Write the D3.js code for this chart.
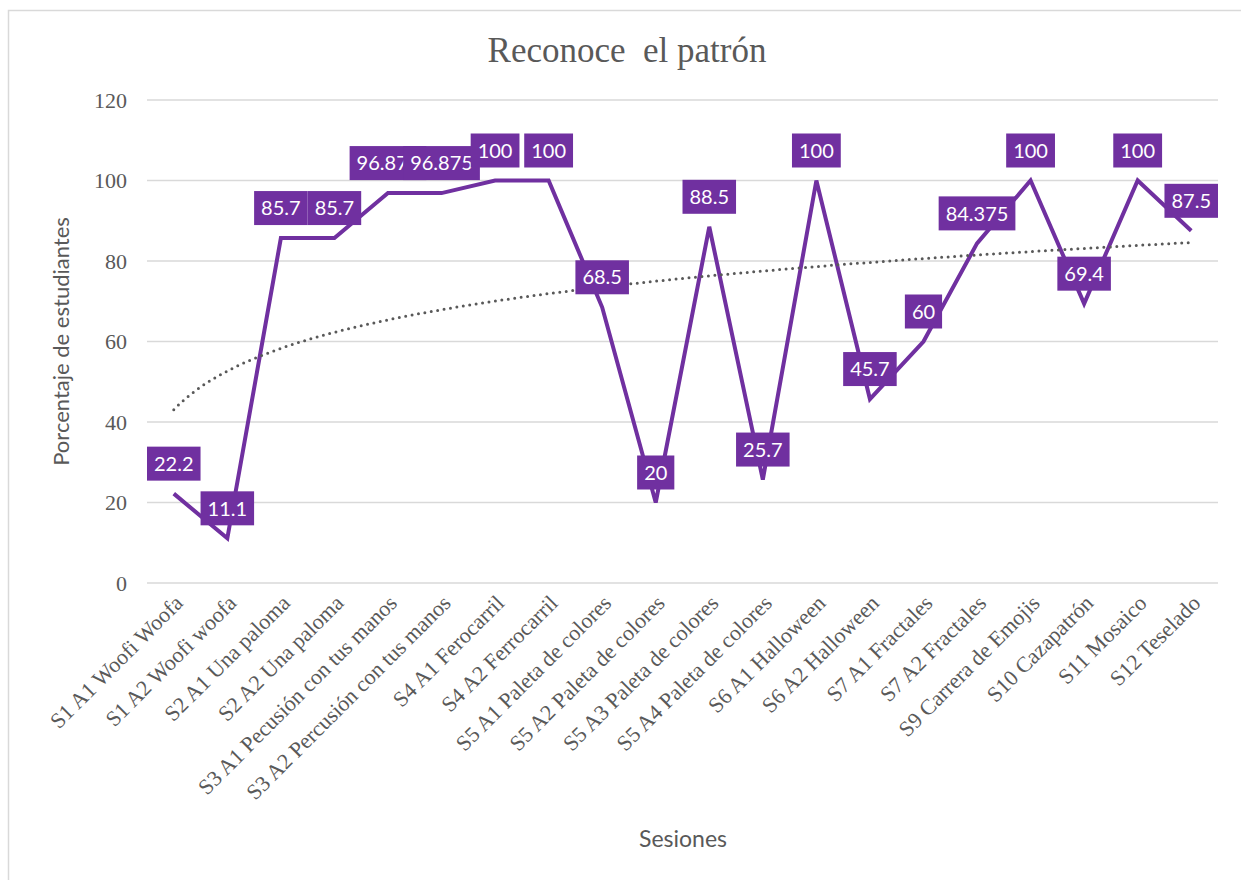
<!DOCTYPE html>
<html>
<head>
<meta charset="utf-8">
<script src="https://cdn.jsdelivr.net/npm/d3@7"></script>
<style>
  body { margin: 0; background: #fff; }
  svg { display: block; }
</style>
</head>
<body>
<script>
// chart data
var sessions = ["S1 A1 Woofi Woofa", "S1 A2 Woofi woofa", "S2 A1 Una paloma", "S2 A2 Una paloma",
  "S3 A1 Pecusión con tus manos", "S3 A2 Percusión con tus manos", "S4 A1 Ferocarril", "S4 A2 Ferrocarril",
  "S5 A1 Paleta de colores", "S5 A2 Paleta de colores", "S5 A3 Paleta de colores", "S5 A4 Paleta de colores",
  "S6 A1 Halloween", "S6 A2 Halloween", "S7 A1 Fractales", "S7 A2 Fractales", "S9 Carrera de Emojis",
  "S10 Cazapatrón", "S11 Mosaico", "S12 Teselado"];
var percentages = [22.2, 11.1, 85.7, 85.7, 96.875, 96.875, 100, 100, 68.5, 20, 88.5, 25.7,
  100, 45.7, 60, 84.375, 100, 69.4, 100, 87.5];
var yTicks = [0, 20, 40, 60, 80, 100, 120];

var W = 1241, H = 880;
var margin = {top: 100, right: 23, bottom: 297, left: 147},
    width = W - margin.left - margin.right,
    height = H - margin.top - margin.bottom;

var purple = "#7030A0", grey = "#595959";
var serif = "'Liberation Serif', 'Times New Roman', serif";
var sans = "Lato, 'Open Sans', sans-serif";

var svg = d3.select("body").append("svg")
    .attr("width", W)
    .attr("height", H);

// chart frame
svg.append("rect")
    .attr("x", 8.5).attr("y", 10.5)
    .attr("width", W + 20).attr("height", H + 20)
    .attr("fill", "#fff")
    .attr("stroke", "#d9d9d9")
    .attr("stroke-width", 1.5);

var g = svg.append("g")
    .attr("transform", "translate(" + margin.left + "," + margin.top + ")");

var x = d3.scaleBand().domain(sessions).range([0, width]);
var y = d3.scaleLinear().domain([0, 120]).range([height, 0]);
var cx = function(d) { return x(d) + x.bandwidth() / 2; };

// gridlines
g.selectAll(".grid")
    .data(yTicks)
    .enter().append("line")
    .attr("x1", 0).attr("x2", width)
    .attr("y1", function(d) { return y(d); })
    .attr("y2", function(d) { return y(d); })
    .attr("stroke", "#d9d9d9")
    .attr("stroke-width", 1.3);

// y axis labels
var yAxis = g.append("g").call(d3.axisLeft(y).tickValues(yTicks).tickSize(0).tickPadding(20));
yAxis.select(".domain").remove();
yAxis.selectAll("text")
    .attr("fill", grey)
    .style("font-family", serif)
    .style("font-size", "22px");

// x axis labels
var xAxis = g.append("g")
    .attr("transform", "translate(0," + height + ")")
    .call(d3.axisBottom(x).tickSize(0));
xAxis.select(".domain").remove();
xAxis.selectAll("text")
    .attr("fill", grey)
    .style("font-family", serif)
    .style("font-size", "22px")
    .style("text-anchor", "end")
    .attr("y", 0).attr("dy", "0.35em")
    .attr("transform", "translate(5,16) rotate(-45)");

// data line
var line = d3.line()
    .x(function(d, i) { return cx(sessions[i]); })
    .y(function(d) { return y(d); });

g.append("path")
    .datum(percentages)
    .attr("fill", "none")
    .attr("stroke", purple)
    .attr("stroke-width", 4)
    .attr("stroke-linejoin", "miter")
    .attr("d", line);

// logarithmic trendline (least squares on ln(index))
var lx = percentages.map(function(d, i) { return Math.log(i + 1); });
var mx = d3.mean(lx), my = d3.mean(percentages);
var sxy = d3.sum(lx, function(v, i) { return (v - mx) * (percentages[i] - my); });
var sxx = d3.sum(lx, function(v) { return (v - mx) * (v - mx); });
var slope = sxy / sxx, icpt = my - slope * mx;
var xi = d3.scaleLinear().domain([1, sessions.length]).range([cx(sessions[0]), cx(sessions[sessions.length - 1])]);
var trend = d3.range(1, sessions.length + 0.001, 0.1).map(function(t) {
  return [xi(t), y(icpt + slope * Math.log(t))];
});
g.append("path")
    .datum(trend)
    .attr("fill", "none")
    .attr("stroke", grey)
    .attr("stroke-width", 3)
    .attr("stroke-linecap", "round")
    .attr("stroke-dasharray", "0,6.5")
    .attr("d", d3.line());

// data labels
var labels = g.selectAll(".lbl")
    .data(percentages)
    .enter().append("g")
    .attr("transform", function(d, i) { return "translate(" + cx(sessions[i]) + "," + (y(d) - 30) + ")"; });

labels.each(function(d) {
  var sel = d3.select(this);
  var rect = sel.append("rect").attr("fill", purple);
  var t = sel.append("text")
      .attr("text-anchor", "middle")
      .attr("dy", "0.36em")
      .attr("fill", "#fff")
      .style("font-family", sans)
      .style("font-size", "20px")
      .text(d);
  var w = t.node().getComputedTextLength() + 14;
  rect.attr("x", -w / 2).attr("y", -17).attr("width", w).attr("height", 34);
});

// title
svg.append("text")
    .attr("x", 627).attr("y", 62)
    .attr("text-anchor", "middle")
    .attr("fill", grey)
    .style("font-family", serif)
    .style("font-size", "35px")
    .style("white-space", "pre")
    .text("Reconoce  el patrón");

// axis titles
svg.append("text")
    .attr("transform", "translate(69," + (margin.top + height / 2) + ") rotate(-90)")
    .attr("text-anchor", "middle")
    .attr("fill", grey)
    .style("font-family", sans)
    .style("font-size", "22px")
    .text("Porcentaje de estudiantes");

svg.append("text")
    .attr("x", 683).attr("y", 847)
    .attr("text-anchor", "middle")
    .attr("fill", grey)
    .style("font-family", sans)
    .style("font-size", "23px")
    .text("Sesiones");
</script>
</body>
</html>
